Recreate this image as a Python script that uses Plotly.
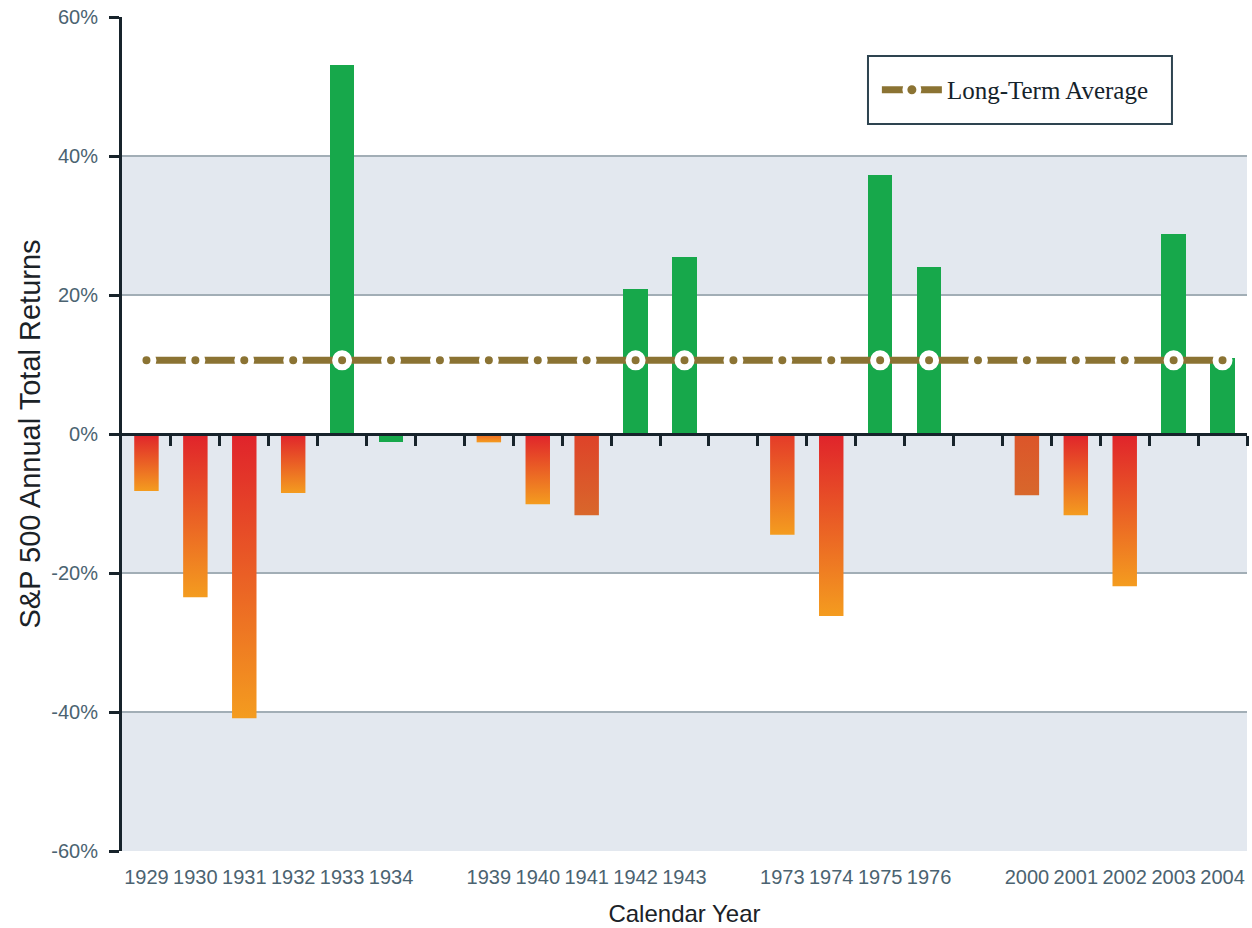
import plotly.graph_objects as go

# ---- data ----
years = ["1929", "1930", "1931", "1932", "1933", "1934", "",
         "1939", "1940", "1941", "1942", "1943", "",
         "1973", "1974", "1975", "1976", "",
         "2000", "2001", "2002", "2003", "2004"]
returns = [-8.2, -23.5, -40.9, -8.5, 53.1, -1.2, None,
           -1.2, -10.1, -11.7, 20.9, 25.5, None,
           -14.5, -26.2, 37.3, 24.0, None,
           -8.8, -11.7, -21.9, 28.8, 10.9]
long_term_average = 10.6
y_ticks = [-60, -40, -20, 0, 20, 40, 60]
y_tick_labels = ["-60%", "-40%", "-20%", "0%", "20%", "40%", "60%"]

# ---- styling ----
GREEN = "#17a84b"
RED = "#e0232b"
ORANGE = "#f49c1f"
bar_top = [RED, RED, RED, RED, GREEN, GREEN, None,
           "#ee6325", RED, "#de4229", GREEN, GREEN, None,
           "#e43a29", RED, GREEN, GREEN, None,
           "#dc552a", RED, RED, GREEN, GREEN]
bar_bottom = [ORANGE, ORANGE, ORANGE, ORANGE, GREEN, GREEN, None,
              ORANGE, ORANGE, "#d9672b", GREEN, GREEN, None,
              ORANGE, ORANGE, GREEN, GREEN, None,
              "#d8672b", ORANGE, ORANGE, GREEN, GREEN]
AVG_COLOR = "#8b7333"
AXIS_COLOR = "#17232b"
TICK_TEXT = "#4b6371"
BAND = "#e3e8ef"
GRID = "#a2aeb6"
BAR_W = 0.5

pos = list(range(len(years)))
fig = go.Figure()

# gradient (red -> orange) bars on the bottom (labelled) axis
for p, v, top, bot in zip(pos, returns, bar_top, bar_bottom):
    if v is None or top == GREEN:
        continue
    h = BAR_W / 2
    fig.add_trace(go.Scatter(
        x=[p - h, p + h, p + h, p - h, p - h],
        y=[0, 0, v, v, 0],
        mode="lines", line=dict(width=0), fill="toself",
        fillgradient=dict(type="vertical", colorscale=[[0, bot], [1, top]]),
        showlegend=False, hoverinfo="skip"))

# solid (green) bars on the zero-line axis
g_x = [p for p, v, c in zip(pos, returns, bar_top) if v is not None and c == GREEN]
g_y = [v for v, c in zip(returns, bar_top) if v is not None and c == GREEN]
fig.add_trace(go.Bar(x=g_x, y=g_y, width=BAR_W, xaxis="x2",
                     marker=dict(color=GREEN, line=dict(width=0)),
                     showlegend=False, hoverinfo="x+y"))

# long-term average line (same layer, drawn above the green bars)
fig.add_trace(go.Scatter(
    x=pos, y=[long_term_average] * len(pos), xaxis="x2",
    mode="lines+markers", name="Long-Term Average",
    line=dict(color=AVG_COLOR, width=7),
    marker=dict(color=AVG_COLOR, size=14, line=dict(color="white", width=6)),
    showlegend=True))

# background bands
shapes = []
for y0, y1 in [(20, 40), (-20, 0), (-60, -40)]:
    shapes.append(dict(type="rect", xref="paper", yref="y", x0=0, x1=1, y0=y0, y1=y1,
                       fillcolor=BAND, line=dict(width=0), layer="below"))
# legend frame
shapes.append(dict(type="rect", xref="paper", yref="paper",
                   x0=0.6631, x1=0.9333, y0=0.8717, y1=0.9532,
                   fillcolor="white", line=dict(color="#2e4450", width=2), layer="above"))

fig.update_layout(
    width=1252, height=928,
    margin=dict(l=122, r=5, t=17, b=77),
    paper_bgcolor="white", plot_bgcolor="white",
    shapes=shapes,
    font=dict(family="Liberation Sans, Arial, sans-serif"),
    xaxis=dict(range=[-0.5, len(years) - 0.5], automargin=False,
               tickvals=[p for p, y in zip(pos, years) if y],
               ticktext=[y for y in years if y], tickangle=0,
               ticks="", showgrid=False, zeroline=False, showline=False,
               tickfont=dict(size=20, color=TICK_TEXT), ticklabelstandoff=12,
               title=dict(text="Calendar Year", font=dict(size=24, color="#1b2227"), standoff=18)),
    xaxis2=dict(overlaying="x", anchor="free", position=0.5, side="bottom",
                range=[-0.5, len(years) - 0.5], automargin=False,
                tickvals=[p + 0.5 for p in pos],
                ticks="outside", ticklen=10, tickwidth=3, tickcolor=AXIS_COLOR,
                showline=True, linewidth=3, linecolor=AXIS_COLOR,
                showticklabels=False, showgrid=False, zeroline=False),
    yaxis=dict(range=[-60, 60], tickvals=y_ticks, ticktext=y_tick_labels, automargin=False,
               showline=True, linewidth=3, linecolor=AXIS_COLOR,
               ticks="outside", ticklen=10, tickwidth=3, tickcolor=AXIS_COLOR,
               showgrid=True, gridcolor=GRID, gridwidth=2, zeroline=False,
               tickfont=dict(size=20, color=TICK_TEXT), ticklabelstandoff=7,
               title=dict(text="S&P 500 Annual Total Returns", font=dict(size=29, color="#1b2227"),
                          standoff=3)),
    legend=dict(x=0.671, y=0.9125, xanchor="left", yanchor="middle",
                bgcolor="rgba(0,0,0,0)", borderwidth=0, itemwidth=60,
                font=dict(family="Liberation Serif, Times New Roman, serif", size=25, color="#15232b")),
    bargap=0,
)

fig.write_html("out.html", config={"displayModeBar": False},
               post_script="document.body.style.margin='0';document.body.style.overflow='hidden';")
